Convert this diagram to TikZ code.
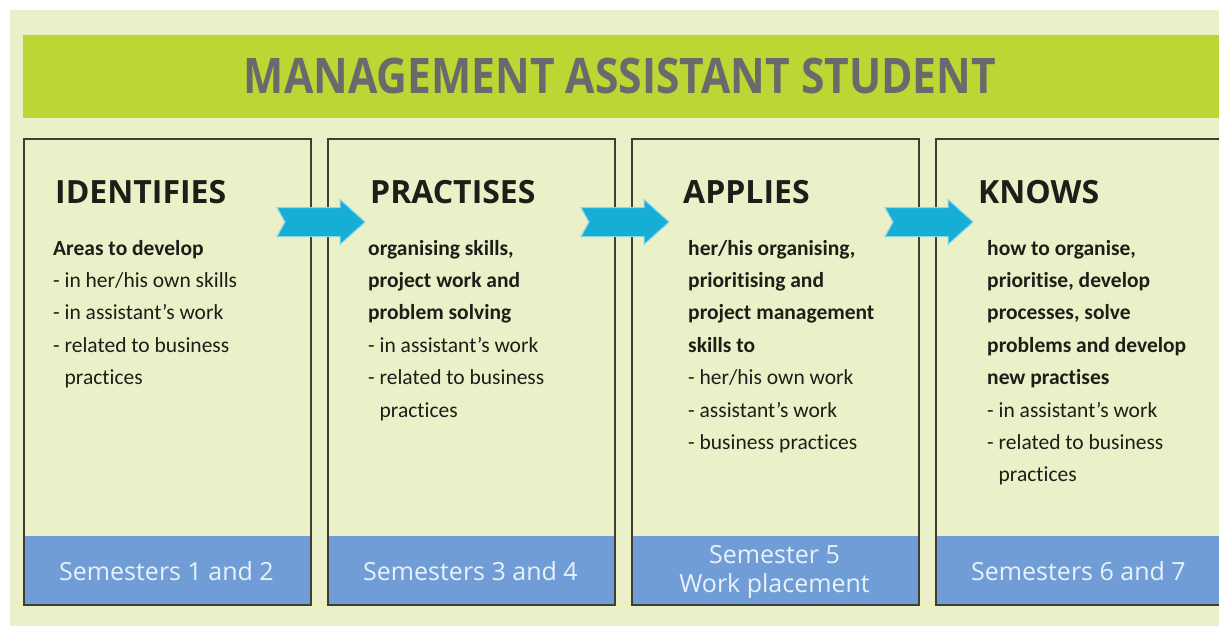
\documentclass[tikz,border=0pt]{standalone}
\usepackage{fontspec}
\setmainfont{Carlito}[Ligatures={TeX,NoCommon}]
\newfontfamily\headfont{Open Sans}
\definecolor{bgpale}{RGB}{234,240,199}
\definecolor{lime}{RGB}{188,214,52}
\definecolor{titlegray}{RGB}{105,106,108}
\definecolor{bandblue}{RGB}{113,157,214}
\definecolor{labeltext}{RGB}{232,242,250}
\definecolor{arrowcyan}{RGB}{22,174,212}
\definecolor{arrowedge}{RGB}{140,215,235}
\definecolor{boxline}{RGB}{62,62,52}
\definecolor{textdark}{RGB}{30,30,25}
\tikzset{
  stagebox/.style={draw=boxline, line width=1.5pt, fill=bgpale, rectangle,
    minimum width=287pt, minimum height=466pt, anchor=north west, inner sep=0pt},
  bandbox/.style={fill=bandblue, rectangle, minimum width=287pt, minimum height=69pt,
    anchor=south west, inner sep=0pt},
  headtext/.style={anchor=base west, inner sep=0pt, text=textdark,
    font=\headfont\bfseries\fontsize{32}{36}\selectfont},
  % multi-line blocks are placed by the baseline of their last line
  bodytext/.style={anchor=base west, inner sep=0pt, align=left, text=textdark,
    font=\fontsize{21.5}{32.4}\selectfont},
  semlabel/.style={anchor=base, inner sep=0pt, align=center, text=labeltext,
    font=\headfont\fontsize{25}{29}\selectfont},
  flowarrow/.pic={
    \path[fill=arrowcyan, draw=arrowedge, line width=1pt, line join=miter]
      (0,-14.5) -- (63,-14.5) -- (63,-22.5) -- (88,0) -- (63,22.5)
      -- (63,14.5) -- (0,14.5) -- (8,0) -- cycle;
  }
}
\newcommand{\dashind}{\phantom{- }}
\begin{document}
\begin{tikzpicture}[x=1pt,y=-1pt]
  \useasboundingbox (0,0) rectangle (1219,626);
  \clip (0,0) rectangle (1219,626);
  % page and pale panel
  \fill[white] (0,0) rectangle (1219,626);
  \fill[bgpale] (10,10) rectangle (1230,640);

  % title banner
  \node[fill=lime, rectangle, anchor=north west, inner sep=0pt,
        minimum width=1210pt, minimum height=83pt] (banner) at (23,35) {};
  \node[anchor=base, inner sep=0pt, text=titlegray,
        font=\headfont\bfseries\fontsize{42.6}{46}\selectfont] (title) at (620,94)
        {\scalebox{1}[1.15]{MANAGEMENT ASSISTANT STUDENT}};

  % the four stage boxes with their semester bands
  \foreach \i/\xx in {1/23, 2/327, 3/631, 4/935} {
    \node[stagebox, draw=none] (box\i) at (\xx,138) {};
    \node[bandbox] (band\i) at (box\i.south west) {};
    \node[stagebox, fill=none] (frame\i) at (\xx,138) {};
  }

  % arrows between the stages
  \path (277,222) pic {flowarrow};
  \path (581,222) pic {flowarrow};
  \path (885,222) pic {flowarrow};

  % stage headings
  \node[headtext] (h1) at (55,203) {IDENTIFIES};
  \node[headtext] (h2) at (370,203) {PRACTISES};
  \node[headtext] (h3) at (683,203) {APPLIES};
  \node[headtext] (h4) at (978,203) {KNOWS};

  % stage descriptions (first baseline at 255, 32.4 between lines)
  \node[bodytext] (b1) at (53,384.6) {\textbf{Areas to develop}\\
    - in her/his own skills\\
    - in assistant's work\\
    - related to business\\
    \dashind practices};
  \node[bodytext] (b2) at (368,417) {\textbf{organising skills,}\\
    \textbf{project work and}\\
    \textbf{problem solving}\\
    - in assistant's work\\
    - related to business\\
    \dashind practices};
  \node[bodytext] (b3) at (688,449.4) {\textbf{her/his organising,}\\
    \textbf{prioritising and}\\
    \textbf{project management}\\
    \textbf{skills to}\\
    - her/his own work\\
    - assistant's work\\
    - business practices};
  \node[bodytext] (b4) at (987,481.8) {\textbf{how to organise,}\\
    \textbf{prioritise, develop}\\
    \textbf{processes, solve}\\
    \textbf{problems and develop}\\
    \textbf{new practises}\\
    - in assistant's work\\
    - related to business\\
    \dashind practices};

  % semester labels
  \node[semlabel] (s1) at (166.5,580) {Semesters 1 and 2};
  \node[semlabel] (s2) at (470.5,580) {Semesters 3 and 4};
  \node[semlabel] (s3) at (774.5,592) {Semester 5\\Work placement};
  \node[semlabel] (s4) at (1078.5,580) {Semesters 6 and 7};
\end{tikzpicture}
\end{document}
